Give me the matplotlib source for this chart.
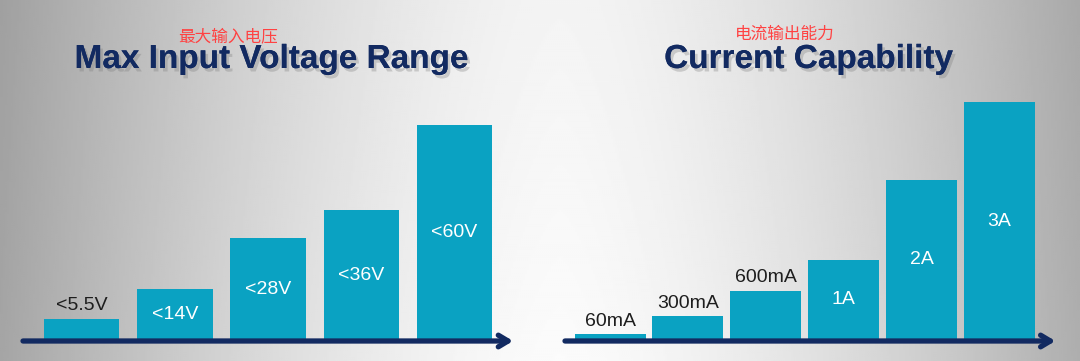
import matplotlib
matplotlib.use("Agg")
import matplotlib.pyplot as plt
import matplotlib.patheffects as pe
import numpy as np

# bar heights (pixels above the axis line)
volt_labels = ["<5.5V", "<14V", "<28V", "<36V", "<60V"]
volt_heights = [21, 51, 102, 130, 215]
volt_outside = [True, False, False, False, False]

curr_labels = ["60mA", "300mA", "600mA", "1A", "2A", "3A"]
curr_heights = [6, 24, 49, 80, 160, 238]
curr_outside = [True, True, True, False, False, False]

W, H = 1080, 361
BAR = "#0aa2c2"
NAVY = "#122a61"
RED = "#ff4242"

fig = plt.figure(figsize=(W / 100, H / 100), dpi=100)

# grey gradient background, light in the middle
bg = fig.add_axes([0, 0, 1, 1])
xs = np.linspace(0, W, 540)
ys = np.linspace(0, H, 181)
gx = 0.985 - 0.32 * (np.abs(xs - 560) / 540) ** 1.5
gy = 1 - 0.03 * (1 - ys / H)
img = np.clip(np.outer(gy, gx), 0, 1)
bg.imshow(img, cmap="gray", vmin=0, vmax=1, aspect="auto", extent=(0, W, H, 0))
bg.set_axis_off()


def panel(x0, x1, c0, pitch, width, labels, heights, outside):
    # axes covers pixels x0..x1, full height; data y = pixels above baseline 340
    ax = fig.add_axes([x0 / W, 0, (x1 - x0) / W, 1])
    ax.set_xlim((x0 - c0) / pitch, (x1 - c0) / pitch)
    ax.set_ylim(-(H - 340), 340)
    ax.set_axis_off()
    idx = np.arange(len(labels))
    bars = ax.bar(idx, heights, width=width / pitch, color=BAR, zorder=2)
    for b, lab, out in zip(bars, labels, outside):
        cx = b.get_x() + b.get_width() / 2
        h = b.get_height()
        if out:
            ax.annotate(lab, (cx, h), xytext=(0, 13), textcoords="offset pixels",
                        ha="center", va="center", fontsize=14, color="#1e1e1e",
                        family="Liberation Sans", zorder=3)
        else:
            ax.text(cx, h / 2, lab, ha="center", va="center", fontsize=14,
                    color="white", family="Liberation Sans", zorder=3)
    lo, hi = ax.get_xlim()
    ax.annotate("", xy=(hi - 0.02, -1), xytext=(lo, -1),
                arrowprops=dict(arrowstyle="->,head_length=0.7,head_width=0.42",
                                color=NAVY, lw=3.8, shrinkA=0, shrinkB=0,
                                capstyle="round"),
                zorder=4)
    return ax


panel(23, 515, 81.7, 93.2, 75.5, volt_labels, volt_heights, volt_outside)
panel(565, 1057, 610, 77.9, 71, curr_labels, curr_heights, curr_outside)

shadow = [pe.withSimplePatchShadow(offset=(2, -2.5), shadow_rgbFace="#777777", alpha=0.3),
          pe.Normal()]
fig.text(272 / W, 1 - 68 / H, "Max Input Voltage Range", ha="center", va="baseline",
         fontsize=24, fontweight="bold", color=NAVY, family="Liberation Sans",
         path_effects=shadow)
fig.text(809 / W, 1 - 68 / H, "Current Capability", ha="center", va="baseline",
         fontsize=24, fontweight="bold", color=NAVY, family="Liberation Sans",
         path_effects=shadow)

fig.text(228 / W, 1 - 37 / H, "最大输入电压", ha="center", va="center", fontsize=12,
         color=RED, family=["Noto Sans CJK SC", "DejaVu Sans"])
fig.text(785 / W, 1 - 34 / H, "电流输出能力", ha="center", va="center", fontsize=12,
         color=RED, family=["Noto Sans CJK SC", "DejaVu Sans"])

fig.savefig("out.png", dpi=100)
